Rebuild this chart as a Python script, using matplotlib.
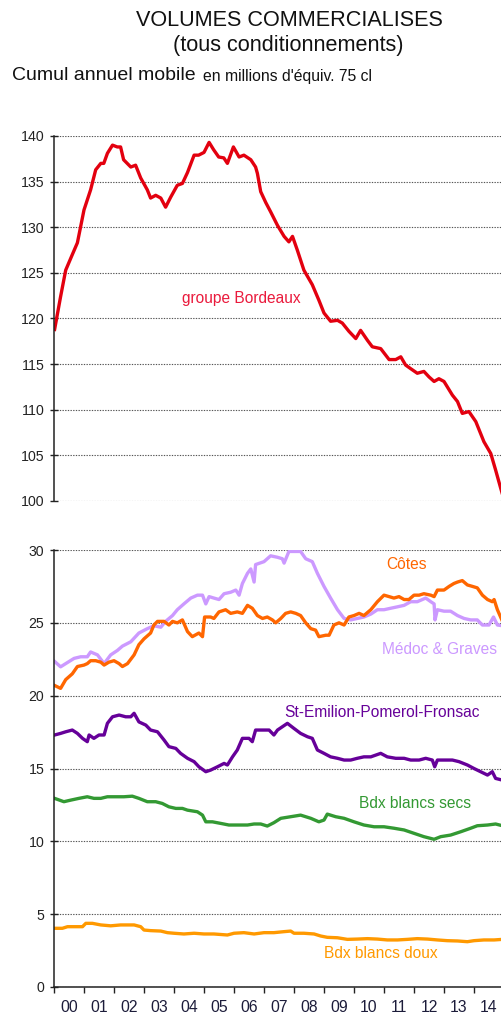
import matplotlib
matplotlib.use("Agg")
import matplotlib.pyplot as plt
from matplotlib.ticker import FixedLocator, NullFormatter

plt.rcParams['font.family'] = ['Liberation Sans', 'DejaVu Sans']

# ---- data: rolling 12-month volumes, millions of 75 cl bottle equivalents ----
# time axis in years since Jan 2000
bordeaux_t = [0.02, 0.22, 0.39, 0.61, 0.78, 1.00, 1.22, 1.39, 1.56, 1.66, 1.78, 1.95, 2.11, 2.22,
              2.32, 2.56, 2.72, 2.89, 3.11, 3.22, 3.39, 3.56, 3.72, 3.89, 4.11, 4.28, 4.45, 4.67,
              4.82, 5.00, 5.17, 5.32, 5.49, 5.66, 5.78, 5.98, 6.17, 6.33, 6.56, 6.72, 6.78, 6.89,
              7.06, 7.22, 7.45, 7.67, 7.83, 7.95, 8.11, 8.33, 8.61, 8.83, 9.00, 9.22, 9.45, 9.61,
              9.83, 10.06, 10.22, 10.45, 10.61, 10.89, 11.17, 11.39, 11.56, 11.72, 11.89, 12.11,
              12.33, 12.50, 12.67, 12.83, 13.00, 13.28, 13.45, 13.61, 13.83, 14.06, 14.33, 14.56,
              14.72, 14.89, 14.96]
bordeaux_v = [118.8, 122.4, 125.3, 127.0, 128.3, 131.9, 134.1, 136.3, 137.0, 137.0, 138.1, 139.0,
              138.8, 138.8, 137.4, 136.6, 136.8, 135.4, 134.1, 133.2, 133.5, 133.2, 132.2, 133.3,
              134.6, 134.8, 136.0, 137.9, 137.9, 138.2, 139.3, 138.5, 137.7, 137.6, 137.0, 138.8,
              137.7, 137.9, 137.4, 136.6, 135.9, 133.9, 132.7, 131.7, 130.2, 129.0, 128.4, 129.0,
              127.5, 125.3, 123.7, 122.0, 120.6, 119.7, 119.8, 119.5, 118.6, 117.8, 118.7, 117.6,
              116.9, 116.7, 115.5, 115.5, 115.8, 114.9, 114.5, 114.0, 114.2, 113.6, 113.1, 113.4,
              113.1, 111.6, 110.9, 109.6, 109.8, 108.7, 106.5, 105.2, 103.4, 101.4, 100.6]

cotes_t = [0.02, 0.22, 0.39, 0.61, 0.78, 1.00, 1.11, 1.22, 1.39, 1.56, 1.67, 1.83, 2.00, 2.17, 2.28,
           2.45, 2.67, 2.83, 3.00, 3.22, 3.33, 3.45, 3.67, 3.83, 3.95, 4.11, 4.28, 4.45, 4.61, 4.83,
           4.95, 5.02, 5.22, 5.33, 5.50, 5.72, 5.89, 6.11, 6.28, 6.45, 6.61, 6.78, 6.95, 7.11, 7.28,
           7.39, 7.56, 7.72, 7.89, 8.06, 8.22, 8.39, 8.56, 8.72, 8.83, 9.06, 9.17, 9.33, 9.50, 9.67,
           9.83, 10.00, 10.17, 10.33, 10.56, 10.78, 11.00, 11.17, 11.33, 11.50, 11.67, 11.83, 12.00,
           12.17, 12.33, 12.56, 12.67, 12.78, 13.00, 13.17, 13.33, 13.45, 13.61, 13.78, 13.95, 14.11,
           14.28, 14.45, 14.61, 14.67, 14.78, 14.95]
cotes_v = [20.7, 20.5, 21.1, 21.5, 22.0, 22.1, 22.2, 22.4, 22.4, 22.3, 22.1, 22.3, 22.4, 22.2, 22.0,
           22.2, 22.8, 23.5, 23.9, 24.3, 24.85, 25.1, 25.1, 24.85, 25.1, 25.0, 25.2, 24.4, 24.05, 24.3,
           24.05, 25.4, 25.4, 25.3, 25.75, 25.9, 25.65, 25.75, 25.65, 26.2, 26.0, 25.5, 25.3, 25.4,
           25.2, 25.0, 25.3, 25.65, 25.75, 25.65, 25.5, 25.0, 24.6, 24.5, 24.05, 24.15, 24.15, 24.85,
           25.0, 24.85, 25.4, 25.5, 25.65, 25.5, 25.9, 26.45, 26.9, 26.8, 26.7, 26.8, 26.6, 26.6, 26.9,
           26.9, 27.0, 26.9, 26.8, 27.25, 27.25, 27.5, 27.7, 27.8, 27.9, 27.6, 27.5, 27.4, 26.9, 26.6,
           26.45, 26.6, 25.9, 25.1]

medoc_t = [0.02, 0.22, 0.39, 0.67, 0.89, 1.11, 1.22, 1.45, 1.67, 1.89, 2.11, 2.28, 2.56, 2.83, 3.11,
           3.33, 3.56, 3.72, 3.95, 4.11, 4.33, 4.56, 4.78, 4.95, 5.06, 5.17, 5.33, 5.50, 5.67, 5.89,
           6.06, 6.17, 6.28, 6.45, 6.56, 6.67, 6.72, 7.00, 7.22, 7.45, 7.61, 7.67, 7.83, 8.06, 8.22,
           8.39, 8.61, 8.78, 9.00, 9.22, 9.45, 9.67, 9.89, 10.11, 10.33, 10.56, 10.78, 11.00, 11.22,
           11.45, 11.67, 11.89, 12.11, 12.39, 12.56, 12.67, 12.70, 12.78, 13.00, 13.22, 13.45, 13.67,
           13.89, 14.11, 14.28, 14.50, 14.65, 14.78, 14.95]
medoc_v = [22.35, 21.98, 22.2, 22.56, 22.67, 22.67, 23.0, 22.8, 22.2, 22.8, 23.1, 23.4, 23.7, 24.3,
           24.6, 24.8, 24.7, 25.1, 25.5, 25.9, 26.3, 26.7, 26.9, 26.9, 26.3, 26.8, 26.7, 26.6, 27.0,
           27.1, 27.25, 26.9, 27.7, 28.4, 28.7, 27.8, 29.0, 29.2, 29.6, 29.5, 29.4, 29.1, 29.9, 29.9,
           29.9, 29.4, 29.2, 28.4, 27.5, 26.7, 25.9, 25.3, 25.2, 25.3, 25.4, 25.6, 25.9, 25.9, 26.0,
           26.1, 26.2, 26.45, 26.45, 26.7, 26.45, 26.3, 25.2, 25.9, 25.8, 25.8, 25.5, 25.3, 25.2,
           25.2, 24.85, 24.85, 25.4, 24.85, 24.8]

stemilion_t = [0.02, 0.22, 0.39, 0.61, 0.78, 0.95, 1.11, 1.17, 1.33, 1.50, 1.67, 1.78, 1.95, 2.17,
               2.39, 2.56, 2.67, 2.83, 3.06, 3.22, 3.45, 3.67, 3.83, 4.06, 4.22, 4.45, 4.67, 4.83,
               5.06, 5.22, 5.45, 5.67, 5.78, 5.95, 6.11, 6.28, 6.50, 6.61, 6.72, 6.95, 7.17, 7.33,
               7.45, 7.78, 8.00, 8.22, 8.45, 8.61, 8.78, 9.00, 9.22, 9.45, 9.67, 9.89, 10.11, 10.33,
               10.56, 10.89, 11.11, 11.39, 11.67, 11.89, 12.17, 12.39, 12.61, 12.69, 12.78, 13.00,
               13.28, 13.50, 13.78, 14.00, 14.22, 14.45, 14.61, 14.72, 14.95]
stemilion_v = [17.3, 17.41, 17.52, 17.64, 17.41, 17.07, 16.84, 17.3, 17.07, 17.3, 17.3, 18.1, 18.55,
               18.67, 18.55, 18.55, 18.79, 18.2, 17.98, 17.64, 17.52, 16.95, 16.5, 16.38, 16.04, 15.7,
               15.47, 15.12, 14.78, 14.89, 15.12, 15.35, 15.24, 15.8, 16.27, 17.07, 17.07, 16.84,
               17.64, 17.64, 17.64, 17.3, 17.64, 18.1, 17.75, 17.41, 17.18, 17.07, 16.27, 16.04, 15.8,
               15.7, 15.58, 15.58, 15.7, 15.8, 15.8, 16.04, 15.8, 15.7, 15.7, 15.58, 15.58, 15.7,
               15.58, 15.12, 15.58, 15.58, 15.58, 15.47, 15.24, 15.0, 14.78, 14.55, 14.78, 14.32, 14.2]

secs_t = [0.02, 0.33, 0.56, 0.83, 1.11, 1.33, 1.56, 1.78, 2.00, 2.33, 2.61, 2.83, 3.11, 3.39, 3.61,
          3.83, 4.06, 4.28, 4.45, 4.78, 4.95, 5.06, 5.28, 5.56, 5.83, 6.11, 6.45, 6.67, 6.89, 7.11,
          7.33, 7.56, 7.89, 8.22, 8.56, 8.83, 9.00, 9.11, 9.39, 9.67, 10.00, 10.33, 10.67, 11.00,
          11.33, 11.67, 12.00, 12.33, 12.67, 12.89, 13.22, 13.56, 13.89, 14.11, 14.45, 14.72, 14.95]
secs_v = [12.95, 12.72, 12.83, 12.95, 13.06, 12.95, 12.95, 13.06, 13.06, 13.06, 13.1, 12.95, 12.72,
          12.72, 12.6, 12.37, 12.26, 12.26, 12.14, 12.03, 11.8, 11.34, 11.34, 11.23, 11.12, 11.12,
          11.12, 11.19, 11.19, 11.05, 11.28, 11.58, 11.69, 11.8, 11.58, 11.34, 11.46, 11.87, 11.69,
          11.58, 11.34, 11.12, 11.0, 11.0, 10.9, 10.78, 10.55, 10.32, 10.14, 10.32, 10.43, 10.66,
          10.9, 11.07, 11.12, 11.19, 11.07]

doux_t = [0.02, 0.28, 0.45, 0.78, 0.95, 1.06, 1.28, 1.56, 1.89, 2.22, 2.67, 2.89, 3.00, 3.22, 3.56,
          3.78, 4.00, 4.33, 4.67, 5.00, 5.33, 5.78, 6.00, 6.33, 6.67, 7.00, 7.33, 7.67, 7.89, 8.00,
          8.33, 8.67, 8.89, 9.11, 9.45, 9.78, 10.11, 10.45, 10.78, 11.11, 11.45, 11.78, 12.11, 12.45,
          12.78, 13.11, 13.45, 13.78, 14.00, 14.33, 14.67, 14.95]
doux_v = [4.03, 4.03, 4.14, 4.14, 4.14, 4.37, 4.37, 4.26, 4.2, 4.26, 4.26, 4.14, 3.91, 3.87, 3.84,
          3.73, 3.69, 3.64, 3.69, 3.64, 3.64, 3.57, 3.69, 3.73, 3.64, 3.73, 3.73, 3.8, 3.84, 3.69,
          3.69, 3.64, 3.5, 3.41, 3.38, 3.27, 3.29, 3.32, 3.29, 3.23, 3.23, 3.27, 3.32, 3.29, 3.23,
          3.18, 3.16, 3.11, 3.18, 3.23, 3.23, 3.27]

year_labels = ['00', '01', '02', '03', '04', '05', '06', '07', '08', '09', '10', '11', '12', '13', '14']
top_ticks = [100, 105, 110, 115, 120, 125, 130, 135, 140]
bottom_ticks = [0, 5, 10, 15, 20, 25, 30]

START = 2000


def years(offsets):
    return [START + o for o in offsets]


# ---- figure ----
W, H = 502, 1018
fig = plt.figure(figsize=(W / 100, H / 100), dpi=100)

x0 = 54 / W
wid = 1 - x0
XMAX = START + 448 / 30

ax_top = fig.add_axes([x0, 1 - 501 / H, wid, (501 - 136) / H])
ax_bot = fig.add_axes([x0, 1 - 987 / H, wid, (987 - 550) / H])

grid_kw = dict(color='#555555', linestyle=(0, (1.2, 1.2)), linewidth=0.8)
txt_col = '#222222'

for ax in (ax_top, ax_bot):
    ax.set_xlim(START, XMAX)
    for s in ('top', 'right'):
        ax.spines[s].set_visible(False)
    ax.spines['left'].set_color('#222222')
    ax.spines['left'].set_linewidth(1.1)
    ax.tick_params(axis='y', direction='inout', length=6, width=1.0, color='#222222',
                   labelsize=10.2, labelcolor=txt_col, pad=4)
    ax.yaxis.grid(True, **grid_kw)
    ax.set_axisbelow(True)

# upper panel: whole of Bordeaux
ax_top.set_ylim(100, 140)
ax_top.set_yticks(top_ticks)
ax_top.spines['bottom'].set_visible(False)
ax_top.set_xticks([])
ax_top.plot(years(bordeaux_t), bordeaux_v, color='#e3000f', lw=2.4, solid_joinstyle='round')
ax_top.text(START + 6.23, 122.2, 'groupe Bordeaux', color='#ea1a3c', fontsize=11.2,
            ha='center', va='center')

# lower panel: appellation families
ax_bot.set_ylim(0, 30)
ax_bot.set_yticks(bottom_ticks)
ax_bot.spines['bottom'].set_color('#222222')
ax_bot.spines['bottom'].set_linewidth(1.1)
ax_bot.xaxis.set_major_locator(FixedLocator([START + i for i in range(15)]))
ax_bot.xaxis.set_major_formatter(NullFormatter())
ax_bot.xaxis.set_minor_locator(FixedLocator([START + i + 0.5 for i in range(15)]))
ax_bot.set_xticklabels(year_labels, minor=True)
ax_bot.tick_params(axis='x', which='major', direction='out', length=4, width=1.0, color='#222222')
ax_bot.tick_params(axis='x', which='minor', length=0, labelsize=11.3, labelcolor='#1c1c3a', pad=9)

series = [
    (medoc_t, medoc_v, '#cc99ff'),
    (cotes_t, cotes_v, '#ff6600'),
    (stemilion_t, stemilion_v, '#660099'),
    (secs_t, secs_v, '#339933'),
    (doux_t, doux_v, '#ff9900'),
]
for t, v, c in series:
    ax_bot.plot(years(t), v, color=c, lw=2.4, solid_joinstyle='round')

labels = [
    ('Côtes', 11.76, 29.0, '#ff6600'),
    ('Médoc & Graves', 12.84, 23.2, '#cc99ff'),
    ('St-Emilion-Pomerol-Fronsac', 10.92, 18.87, '#660099'),
    ('Bdx blancs secs', 12.02, 12.6, '#339933'),
    ('Bdx blancs doux', 10.88, 2.33, '#ff9900'),
]
for s, xo, yv, c in labels:
    ax_bot.text(START + xo, yv, s, color=c, fontsize=11.2, ha='center', va='center')

# headings
fig.text(289 / W, 1 - 20 / H, 'VOLUMES COMMERCIALISES', ha='center', va='center',
         fontsize=15.6, color='#111111')
fig.text(288 / W, 1 - 46 / H, '(tous conditionnements)', ha='center', va='center',
         fontsize=15.6, color='#111111')
fig.text(12 / W, 1 - 76 / H, 'Cumul annuel mobile', ha='left', va='center',
         fontsize=14, color='#111111')
fig.text(203 / W, 1 - 77 / H, "en millions d'équiv. 75 cl", ha='left', va='center',
         fontsize=11.3, color='#111111')

fig.savefig('out.png', dpi=100)
